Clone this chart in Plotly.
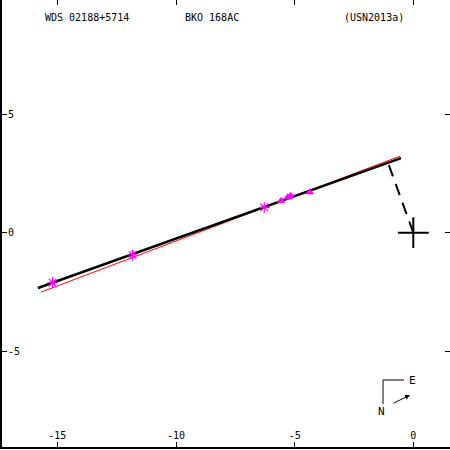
import plotly.graph_objects as go

# ---- data (arcsec) ----
orbit_x = [-15.82, -0.52]
orbit_y = [-2.33, 3.14]
fit_x = [-15.70, -0.55]
fit_y = [-2.51, 3.23]
node_x = [-1.03, 0.0]
node_y = [2.85, 0.0]
star_x = [-15.2, -11.83, -6.28]
star_y = [-2.11, -0.94, 1.07]
tri_x = [-5.57, -5.29, -5.17, -4.37]
tri_y = [1.35, 1.49, 1.56, 1.70]
xtick_vals = [-15, -10, -5, 0]
xtick_text = ["-15", "-10", "-5", "0"]
ytick_vals = [5, 0, -5]
ytick_text = ["5", "0", "-5"]
titles = ["WDS 02188+5714", "BKO 168AC", "(USN2013a)"]

W, H = 450, 450
ML, MB = 2, 3
PW, PH = W - ML, H - MB
x0px, y0px, scale = 413.3, 232.7, 23.73

def px2x(px):
    return (px - x0px) / scale

def py2y(py):
    return (y0px - py) / scale

def paper_x(px):
    return (px - ML) / PW

def paper_y(py):
    return (PH - py) / PH

FONT = dict(family="DejaVu Sans Mono", size=10, color="black")
FONT11 = dict(family="DejaVu Sans Mono", size=11, color="black")

fig = go.Figure()
fig.add_trace(go.Scatter(x=fit_x, y=fit_y, mode="lines",
                         line=dict(color="red", width=1), hoverinfo="skip"))
fig.add_trace(go.Scatter(x=orbit_x, y=orbit_y, mode="lines",
                         line=dict(color="black", width=2.5), hoverinfo="skip"))
fig.add_trace(go.Scatter(x=node_x, y=node_y, mode="lines",
                         line=dict(color="black", width=2, dash="12px,8px"), hoverinfo="skip"))
fig.add_trace(go.Scatter(x=[0], y=[0], mode="markers",
                         marker=dict(symbol="cross-thin", size=22, color="black",
                                     line=dict(color="black", width=2)), hoverinfo="skip"))
fig.add_trace(go.Scatter(x=star_x, y=star_y, mode="markers",
                         marker=dict(symbol="asterisk-open", size=9, color="magenta",
                                     line=dict(color="magenta", width=1.2)), hoverinfo="skip"))
fig.add_trace(go.Scatter(x=tri_x, y=tri_y, mode="markers",
                         marker=dict(symbol="triangle-up", size=8, color="magenta",
                                     line=dict(width=0)), hoverinfo="skip"))

xr = [px2x(ML), px2x(W)]
yr = [py2y(PH), py2y(0)]

fig.update_layout(
    width=W, height=H, showlegend=False,
    margin=dict(l=ML, r=0, t=0, b=MB, pad=0, autoexpand=False),
    paper_bgcolor="white", plot_bgcolor="white",
    font=FONT,
    xaxis=dict(range=xr, showgrid=False, zeroline=False, showline=True, automargin=False,
               linecolor="black", linewidth=2, ticks="inside", ticklen=5,
               tickwidth=1, tickcolor="black", tickvals=xtick_vals,
               ticktext=xtick_text, ticklabelposition="inside", tickfont=FONT),
    yaxis=dict(range=yr, showgrid=False, zeroline=False, showline=True, automargin=False,
               linecolor="black", linewidth=2, ticks="inside", ticklen=5,
               tickwidth=1, tickcolor="black", tickvals=ytick_vals,
               ticktext=ytick_text, ticklabelposition="inside", tickfont=FONT),
    xaxis2=dict(range=xr, overlaying="x", side="top", showgrid=False, automargin=False,
                zeroline=False, showline=False, ticks="inside", ticklen=5,
                tickcolor="black", tickvals=xtick_vals, showticklabels=False),
    yaxis2=dict(range=yr, overlaying="y", side="right", showgrid=False, automargin=False,
                zeroline=False, showline=False, ticks="inside", ticklen=5,
                tickcolor="black", tickvals=ytick_vals, showticklabels=False),
)
# dummy trace to activate the mirror axes
fig.add_trace(go.Scatter(x=[None], y=[None], xaxis="x2", yaxis="y2", showlegend=False))

for txt, cx in zip(titles, [87, 212, 374]):
    fig.add_annotation(text=txt, x=paper_x(cx), y=paper_y(17), xref="paper", yref="paper",
                       showarrow=False, font=FONT, xanchor="center", yanchor="middle")

# compass (N-E) decoration
fig.add_shape(type="line", xref="paper", yref="paper",
              x0=paper_x(383), y0=paper_y(380), x1=paper_x(404), y1=paper_y(380),
              line=dict(color="black", width=1))
fig.add_shape(type="line", xref="paper", yref="paper",
              x0=paper_x(383), y0=paper_y(380), x1=paper_x(383), y1=paper_y(404),
              line=dict(color="black", width=1))
fig.add_annotation(text="E", x=paper_x(412), y=paper_y(380), xref="paper", yref="paper",
                   showarrow=False, font=FONT11, xanchor="center", yanchor="middle")
fig.add_annotation(text="N", x=paper_x(381), y=paper_y(411), xref="paper", yref="paper",
                   showarrow=False, font=FONT11, xanchor="center", yanchor="middle")
fig.add_annotation(text="", x=paper_x(410), y=paper_y(395), xref="paper", yref="paper",
                   ax=-18, ay=9, axref="pixel", ayref="pixel",
                   showarrow=True, arrowhead=2, arrowsize=1, arrowwidth=1,
                   arrowcolor="black")

fig.write_html("out.html", config={"displayModeBar": False},
               post_script="document.body.style.margin='0';document.body.style.overflow='hidden';")
